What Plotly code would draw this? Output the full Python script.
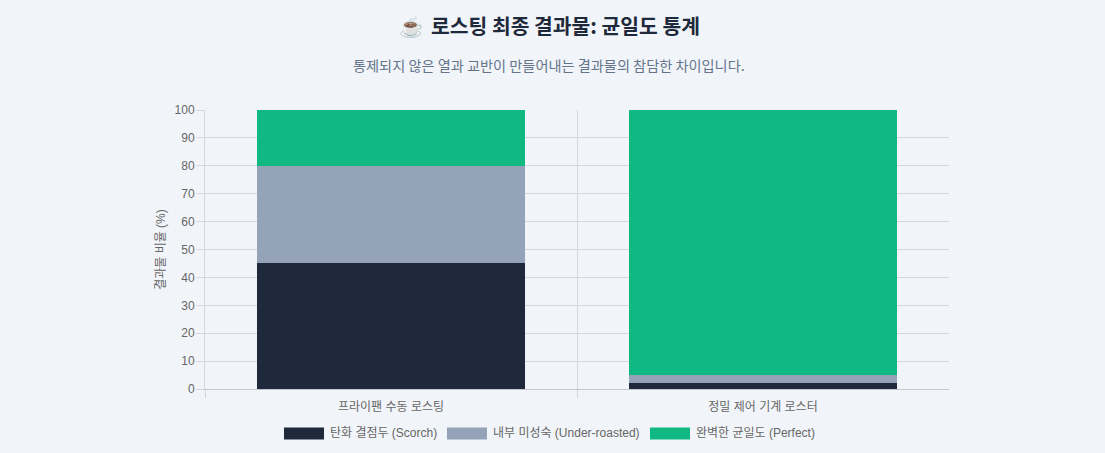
import plotly.graph_objects as go

categories = ["프라이팬 수동 로스팅", "정밀 제어 기계 로스터"]
positions = [0, 1]
scorch = [45, 2]
under = [35, 3]
perfect = [20, 95]
series_names = ["탄화 결점두 (Scorch)", "내부 미성숙 (Under-roasted)", "완벽한 균일도 (Perfect)"]
colors = ["#1e293b", "#94a3b8", "#10b981"]
y_ticks = list(range(0, 101, 10))

W, H = 1105, 453
LEFT, RIGHT, TOP, BOTTOM = 205, 949, 110.3, 389.4
FONT = "Liberation Sans, Arial, Noto Sans CJK KR, sans-serif"
KR = "Noto Sans CJK KR, sans-serif"


def px(x):
    return (x - LEFT) / (RIGHT - LEFT)


def py(y):
    return (BOTTOM - y) / (BOTTOM - TOP)


fig = go.Figure()
for name, vals, col in zip(series_names, [scorch, under, perfect], colors):
    fig.add_trace(go.Bar(x=positions, y=vals, name=name, marker_color=col, marker_line_width=0))

# legend drawn by hand, plotly bar swatches are fixed at 12px
swatch_x = [284, 447, 650]
text_x = [328, 491, 694]
legend_y = 434
shapes = []
annotations = []
for sx, tx, name, col in zip(swatch_x, text_x, series_names, colors):
    shapes.append(dict(type="rect", xref="paper", yref="paper",
                       x0=px(sx), x1=px(sx + 40),
                       y0=py(legend_y + 6), y1=py(legend_y - 6),
                       fillcolor=col, line_width=0))
    annotations.append(dict(text=name, xref="paper", yref="paper", showarrow=False,
                            x=px(tx), y=py(legend_y - 1),
                            xanchor="left", yanchor="middle",
                            font=dict(size=12, color="#666666", family=FONT)))

annotations.append(dict(text="☕", xref="paper", yref="paper",
                        x=px(411), y=py(26), showarrow=False,
                        xanchor="center", yanchor="middle",
                        font=dict(size=20, color="#1e293b", family=KR)))
annotations.append(dict(text="<b>로스팅 최종 결과물: 균일도 통계</b>", xref="paper", yref="paper",
                        x=px(565), y=py(25.5), showarrow=False,
                        xanchor="center", yanchor="middle",
                        font=dict(size=20.4, color="#1e293b", family=KR)))
annotations.append(dict(text="통제되지 않은 열과 교반이 만들어내는 결과물의 참담한 차이입니다.", xref="paper", yref="paper",
                        x=px(549), y=py(65), showarrow=False,
                        xanchor="center", yanchor="middle",
                        font=dict(size=14.2, color="#64748b", family=KR)))

fig.update_layout(
    width=W, height=H, barmode="stack", bargap=0.28, showlegend=False,
    paper_bgcolor="#f1f5f9", plot_bgcolor="#f1f5f9",
    font=dict(family=FONT, size=12, color="#666666"),
    margin=dict(l=LEFT, r=W - RIGHT, t=TOP, b=H - BOTTOM),
    shapes=shapes, annotations=annotations,
    # numeric x so the right edge gets no grid line or tick
    xaxis=dict(range=[-0.5, 1.5], tickvals=positions, ticktext=categories, ticks="",
               showgrid=False, zeroline=False, linecolor="#c4c8ce", showline=True,
               tickfont=dict(size=12), ticklabelstandoff=7,
               minor=dict(tickvals=[-0.5, 0.5], ticks="outside", ticklen=8,
                          tickcolor="#d4d8de", showgrid=True, gridcolor="#d4d8de", gridwidth=1)),
    yaxis=dict(range=[0, 100], tickvals=y_ticks, ticks="outside", ticklen=8,
               tickcolor="#d4d8de", gridcolor="#d4d8de", showline=True, linecolor="#d4d8de",
               zeroline=False, tickfont=dict(size=12), ticklabelstandoff=-1,
               title=dict(text="결과물 비율 (%)", font=dict(size=12, color="#666666"), standoff=6)),
)

fig.write_html("out.html", config=dict(displayModeBar=False),
               post_script="document.body.style.margin='0';")
